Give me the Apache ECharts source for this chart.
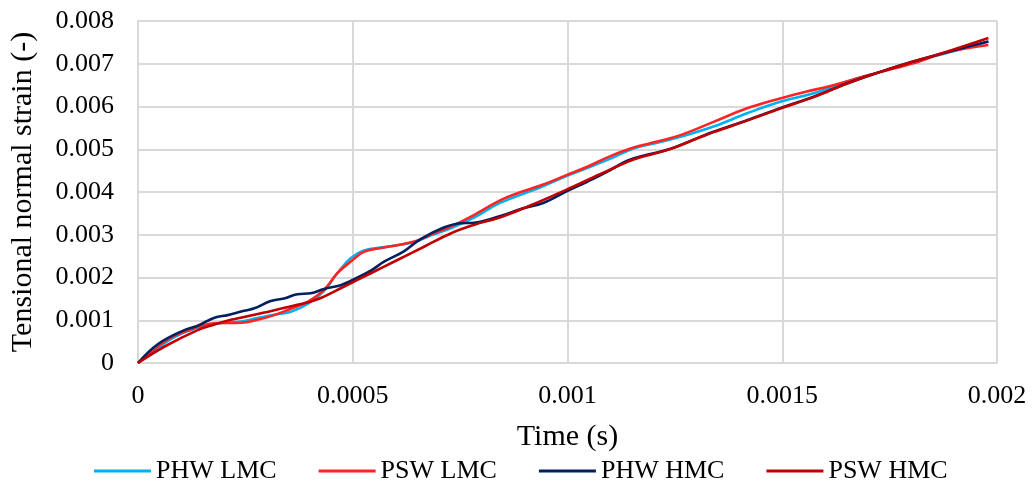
<!DOCTYPE html>
<html>
<head>
<meta charset="utf-8">
<script src="https://cdn.jsdelivr.net/npm/echarts@6/dist/echarts.min.js"></script>
<style>html,body{margin:0;padding:0;background:#fff}#c{width:1032px;height:484px}</style>
</head>
<body>
<div id="c"></div>
<script>
var seriesNames = ['PHW LMC', 'PSW LMC', 'PHW HMC', 'PSW HMC'];
var xTicks = [0, 0.0005, 0.001, 0.0015, 0.002];
var yTicks = [0, 0.001, 0.002, 0.003, 0.004, 0.005, 0.006, 0.007, 0.008];

var phwLMC = [[0,0],[0.000061,0.00046],[0.000108,0.00072],[0.000178,0.00092],[0.00024,0.00097],[0.000278,0.00105],[0.000317,0.00113],[0.000356,0.0012],[0.000395,0.00138],[0.000433,0.00168],[0.000464,0.0021],[0.000495,0.00245],[0.000526,0.00263],[0.000573,0.00271],[0.000643,0.00283],[0.000681,0.00298],[0.000728,0.00315],[0.000782,0.0034],[0.000844,0.00375],[0.000937,0.00411],[0.000999,0.00438],[0.001046,0.00456],[0.0011,0.00478],[0.001154,0.00502],[0.001209,0.00515],[0.001263,0.00529],[0.00134,0.00553],[0.001418,0.00584],[0.001495,0.00611],[0.001573,0.00631],[0.00165,0.00658],[0.001728,0.00681],[0.001805,0.00705],[0.001883,0.00725],[0.00198,0.00752]];

var pswLMC = [[0,0],[0.000061,0.0005],[0.000108,0.00073],[0.000178,0.00093],[0.00024,0.00094],[0.000278,0.00101],[0.000317,0.00112],[0.000356,0.00127],[0.000395,0.00143],[0.000433,0.00171],[0.000464,0.0021],[0.000495,0.00237],[0.000526,0.0026],[0.000573,0.0027],[0.000643,0.00284],[0.000681,0.003],[0.000728,0.00319],[0.000782,0.00346],[0.000844,0.00381],[0.000883,0.00397],[0.000937,0.00415],[0.000999,0.0044],[0.001046,0.00459],[0.0011,0.00484],[0.001154,0.00504],[0.001209,0.00518],[0.001263,0.00533],[0.00134,0.00564],[0.001418,0.00596],[0.001495,0.00619],[0.001557,0.00635],[0.001612,0.00648],[0.001689,0.0067],[0.001805,0.00701],[0.001883,0.00727],[0.00198,0.00744]];

var phwHMC = [[0,0],[0.000046,0.00044],[0.000108,0.00077],[0.000139,0.00087],[0.000178,0.00106],[0.000209,0.00112],[0.000247,0.00122],[0.000271,0.00128],[0.000309,0.00145],[0.00034,0.00151],[0.000371,0.00161],[0.000402,0.00163],[0.000433,0.00173],[0.000472,0.00182],[0.000495,0.00192],[0.000542,0.00216],[0.000573,0.00237],[0.000619,0.00261],[0.000658,0.0029],[0.000712,0.00317],[0.000751,0.00327],[0.000782,0.00328],[0.000844,0.00344],[0.000891,0.0036],[0.000945,0.00375],[0.000999,0.00402],[0.001046,0.00424],[0.001092,0.00447],[0.001139,0.00473],[0.001185,0.00487],[0.00124,0.00501],[0.001309,0.00529],[0.00134,0.00541],[0.001418,0.00568],[0.001495,0.00596],[0.001573,0.00623],[0.00165,0.00654],[0.001728,0.00681],[0.001805,0.00705],[0.001883,0.00727],[0.00198,0.00752]];

var pswHMC = [[0,0],[0.000061,0.00038],[0.000139,0.00077],[0.000178,0.0009],[0.000216,0.00101],[0.000294,0.00118],[0.000371,0.00136],[0.000418,0.00149],[0.00048,0.00179],[0.000542,0.0021],[0.000604,0.00241],[0.000666,0.00272],[0.000728,0.00303],[0.000782,0.00323],[0.000844,0.00341],[0.000922,0.00372],[0.000999,0.00406],[0.001077,0.00442],[0.001154,0.00476],[0.001232,0.00498],[0.001309,0.00528],[0.00134,0.0054],[0.001418,0.00567],[0.001495,0.00595],[0.001573,0.00622],[0.00165,0.00653],[0.001728,0.00681],[0.001805,0.00705],[0.001883,0.00728],[0.00198,0.0076]];

var colors = ['#00B0F0', '#FF2424', '#002060', '#C00000'];
var dataSets = [phwLMC, pswLMC, phwHMC, pswHMC];
var FONT = '"Liberation Serif", "Times New Roman", serif';

var chart = echarts.init(document.getElementById('c'), null, {renderer: 'canvas'});
var series = seriesNames.map(function (n, i) {
  return {
    name: n, type: 'line', data: dataSets[i], showSymbol: false, symbol: 'none',
    smooth: 0.4, lineStyle: {color: colors[i], width: 2.6}, itemStyle: {color: colors[i]},
    animation: false
  };
});

chart.setOption({
  animation: false,
  backgroundColor: '#fff',
  color: colors,
  grid: {left: 137, right: 35, top: 21, bottom: 121, containLabel: false},
  legend: {
    data: seriesNames, left: 89, top: 453, icon: 'rect', itemWidth: 57, itemHeight: 3, itemGap: 42,
    textStyle: {fontFamily: FONT, fontSize: 26, color: '#000'}
  },
  xAxis: {
    type: 'value', min: xTicks[0], max: xTicks[xTicks.length - 1], interval: 0.0005,
    name: 'Time (s)', nameLocation: 'middle', nameGap: 59,
    nameTextStyle: {fontFamily: FONT, fontSize: 30, color: '#000'},
    axisLine: {show: true, lineStyle: {color: '#D9D9D9', width: 2}},
    axisTick: {show: false},
    axisLabel: {fontFamily: FONT, fontSize: 26, color: '#000', margin: 20,
      formatter: function (v) { return String(parseFloat(v.toFixed(6))); }},
    splitLine: {show: true, lineStyle: {color: '#D9D9D9', width: 2}}
  },
  yAxis: {
    type: 'value', min: yTicks[0], max: yTicks[yTicks.length - 1], interval: 0.001,
    name: 'Tensional normal strain (-)', nameLocation: 'middle', nameGap: 100,
    nameTextStyle: {fontFamily: FONT, fontSize: 30, color: '#000'},
    axisLine: {show: true, lineStyle: {color: '#D9D9D9', width: 2}},
    axisTick: {show: false},
    axisLabel: {fontFamily: FONT, fontSize: 26, color: '#000', margin: 24,
      formatter: function (v) { return String(parseFloat(v.toFixed(6))); }},
    splitLine: {show: true, lineStyle: {color: '#D9D9D9', width: 2}}
  },
  series: series
});
</script>
</body>
</html>
